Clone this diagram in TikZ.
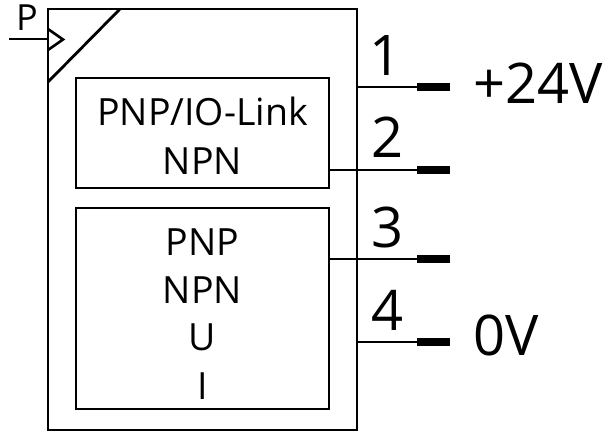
\documentclass[tikz,border=0pt]{standalone}
\usepackage{fontspec}
\setmainfont{Open Sans}
\tikzset{
    frame/.style={draw,line width=2.8pt,minimum width=#1,inner sep=0pt,outer sep=0pt},
    pad/.style={fill=black,minimum width=33pt,minimum height=8pt,inner sep=0pt,outer sep=0pt},
    wire/.style={line width=2.4pt},
    big/.style={anchor=base,inner sep=0pt,font=\fontsize{56}{60}\selectfont},
    small/.style={anchor=base,inner sep=0pt,font=\fontsize{37.5}{40}\selectfont}
}
\begin{document}
\begin{tikzpicture}[x=1pt,y=-1pt]
    \useasboundingbox (0,0) rectangle (607,439);

    \node [frame=309pt,minimum height=421pt] (housing) at (202.5,219.5) {};
    \node [frame=253pt,minimum height=110pt] (upper) at (202.5,133) {};
    \node [frame=253pt,minimum height=201pt] (lower) at (202.5,308.5) {};

    % corner mark and pressure port
    \coordinate (diagtop) at (120,9);
    \coordinate (diagbot) at (48,82);
    \coordinate (portin) at (9,39);
    \draw [line width=2.8pt] (diagtop)--(diagbot);
    \draw [wire] (portin)--(housing.west |- portin);
    \draw [line width=2.6pt] (48,29)--(63,39.5)--(48,50);
    \node [small,font=\fontsize{36}{40}\selectfont] (plabel) at (27,30) {P};

    % terminals
    \node [pad] (pad1) at (433.5,87) {};
    \node [pad] (pad2) at (433.5,170) {};
    \node [pad] (pad3) at (433.5,259) {};
    \node [pad] (pad4) at (433.5,342) {};
    \draw [wire] (housing.east |- pad1)--(pad1);
    \draw [wire] (upper.east |- pad2)--(pad2);
    \draw [wire] (lower.east |- pad3)--(pad3);
    \draw [wire] (housing.east |- pad4)--(pad4);

    \node [big] (num1) at (386,75) {1};
    \node [big] (num2) at (388,157) {2};
    \node [big] (num3) at (388,247) {3};
    \node [big] (num4) at (388,330) {4};
    \node [big,anchor=base west] (vplus) at (473,103) {+24V};
    \node [big,anchor=base west] (vzero) at (473,355) {0V};

    \node [small] (up1) at (202.5,125) {PNP/IO-Link};
    \node [small] (up2) at (202.5,174) {NPN};
    \node [small] (lo1) at (202.5,255) {PNP};
    \node [small] (lo2) at (202.5,303) {NPN};
    \node [small] (lo3) at (202.5,350) {U};
    \node [small] (lo4) at (202.5,399) {I};
\end{tikzpicture}
\end{document}
